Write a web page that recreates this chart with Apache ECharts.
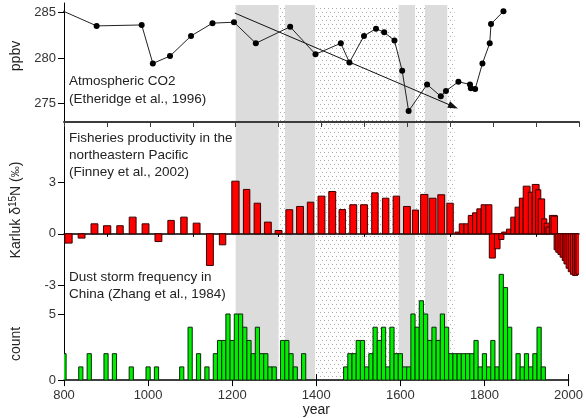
<!DOCTYPE html>
<html>
<head>
<meta charset="utf-8">
<script src="https://cdn.jsdelivr.net/npm/echarts@6.0.0/dist/echarts.min.js"></script>
<style>
  html, body {margin:0;padding:0;background:#ffffff;}
  #chart {width:586px;height:418px;}
</style>
</head>
<body>
<div id="chart"></div>
<script>
    // atmospheric CO2 (Etheridge et al., 1996)
    var co2Year = [760, 876, 981, 1007, 1047, 1096, 1146, 1196, 1247, 1327, 1386, 1445, 1465, 1499, 1527, 1546, 1570, 1588, 1603, 1646, 1678, 1690, 1719, 1746, 1748, 1758, 1775, 1792, 1795, 1824];
    var co2Ppbv = [285.9, 283.5, 283.6, 279.4, 280.2, 282.4, 283.8, 283.9, 281.6, 283.4, 280.4, 281.6, 279.5, 282.4, 283.2, 282.8, 281.9, 278.6, 274.2, 277.1, 275.8, 276.4, 277.4, 277.1, 276.7, 276.6, 279.4, 281.6, 283.7, 285.1];
    var co2Trend = [[1198, 284.9], [1707, 274.7]];

    // Karluk d15N (Finney et al., 2002): sample interval start / end year and value
    var fishStart = [802, 833, 863, 892, 923, 952, 982, 1012, 1042, 1072, 1101, 1132, 1162, 1191, 1218, 1243, 1267, 1292, 1317, 1342, 1367, 1392, 1417, 1441, 1466, 1491, 1517, 1542, 1567, 1591, 1612, 1631, 1651, 1671, 1692,
        1711, 1721, 1732, 1742, 1752, 1762, 1772, 1783, 1791, 1803, 1813, 1820, 1831, 1841, 1851, 1861, 1870, 1882, 1891, 1899, 1905, 1913, 1919, 1923, 1931, 1935,
        1942, 1946, 1951, 1956, 1961, 1965, 1970, 1975, 1980, 1985, 1989, 1993];
    var fishEnd = [819, 849, 879, 909, 938, 968, 998, 1028, 1057, 1087, 1117, 1148, 1177, 1208, 1233, 1258, 1283, 1308, 1333, 1358, 1382, 1408, 1433, 1456, 1482, 1507, 1532, 1557, 1582, 1607, 1626, 1648, 1667, 1687, 1707,
        1721, 1732, 1742, 1752, 1762, 1772, 1783, 1797, 1805, 1816, 1825, 1831, 1841, 1851, 1861, 1870, 1886, 1891, 1907, 1911, 1920, 1925, 1931, 1932, 1949, 1950,
        1950, 1954, 1959, 1964, 1969, 1973, 1978, 1983, 1988, 1993, 1997, 2001];
    var fishValue = [-0.54, -0.25, 0.58, 0.47, 0.47, 0.97, 0.58, -0.45, 0.78, 0.97, 0.62, -1.84, -0.64, 3.06, 2.58, 1.78, 0.68, 0.19, 1.40, 1.59, 1.84, 2.19, 2.46, 1.41, 1.69, 1.69, 2.38, 2.07, 2.19, 1.59, 1.38, 2.29, 2.07, 2.27, 1.78,
        0.1, 0.58, 0.58, 1.07, 1.22, 1.45, 1.69, 1.69, -1.41, -0.87, -0.33, 0.1, 0.27, 0.97, 1.55, 2.07, 2.77, 2.42, 2.87, 2.56, 2.03, 0.87, 0.62, 0.39, 1.07, 1.03,
        -0.93, -1.07, -1.2, -1.36, -1.55, -1.75, -2.0, -2.2, -2.35, -2.42, -2.42, -2.35];

    // dust storm frequency in China (Zhang et al., 1984), per decade
    var dustYear = [800, 840, 860, 900, 920, 960, 1000, 1020, 1080, 1100, 1120, 1140, 1160, 1170, 1180, 1190, 1200, 1210, 1220, 1230, 1240, 1250, 1260, 1270, 1280, 1290, 1300,
        1320, 1330, 1340, 1350, 1370, 1470, 1480, 1490, 1500, 1510, 1520, 1530, 1540, 1550, 1560, 1570, 1580, 1590, 1600, 1610, 1620, 1630, 1640, 1650, 1660, 1670, 1680, 1690,
        1700, 1710, 1720, 1730, 1740, 1750, 1760, 1770, 1780, 1790, 1800, 1810, 1820, 1830, 1840, 1850, 1860, 1880, 1890, 1900, 1910, 1920, 1930, 1940];
    var dustCount = [2, 1, 2, 2, 2, 1, 1, 1, 1, 4, 2, 1, 2, 3, 3, 5, 3, 5, 5, 4, 3, 2, 4, 2, 2, 1, 1,
        3, 3, 2, 1, 2, 1, 2, 2, 3, 3, 1, 2, 4, 3, 4, 1, 4, 2, 2, 1, 1, 5, 4, 6, 5, 3, 4, 3,
        5, 4, 2, 2, 2, 2, 2, 2, 3, 1, 2, 1, 3, 1, 8, 7, 4, 2, 1, 2, 1, 2, 4, 1];

    // shaded periods
    var greyBands = [[1200, 1300], [1315, 1385], [1580, 1618], [1641, 1693]];
    var dottedBands = [[1300, 1710]];

    var FONT = 'Liberation Sans, Arial, sans-serif';

    // dotted fill pattern
    var pat = document.createElement('canvas');
    pat.width = 4; pat.height = 8;
    var pctx = pat.getContext('2d');
    pctx.fillStyle = '#aaaaaa';
    pctx.fillRect(0, 0, 1, 1);
    pctx.fillRect(2, 4, 1, 1);

    var fishData = fishStart.map(function (s, i) { return [s, fishEnd[i], fishValue[i]]; });
    var dustData = dustYear.map(function (y, i) { return [y - 5, y + 5, dustCount[i]]; });
    var bandData = dottedBands.map(function (b) { return [b[0], b[1], 0]; })
        .concat(greyBands.map(function (b) { return [b[0], b[1], 1]; }));

    function barItem(fill, stroke) {
        return function (params, api) {
            var p0 = api.coord([api.value(0), api.value(2)]);
            var p1 = api.coord([api.value(1), 0]);
            return {
                type: 'rect',
                shape: {x: p0[0], y: Math.min(p0[1], p1[1]), width: p1[0] - p0[0], height: Math.abs(p1[1] - p0[1])},
                style: {fill: fill, stroke: stroke, lineWidth: 1}
            };
        };
    }

    var chart = echarts.init(document.getElementById('chart'), null, {renderer: 'canvas'});

    var xBase = {type: 'value', min: 800, max: 2000, interval: 200, splitLine: {show: false}};
    var plain = function (v) { return String(v); };

    var option = {
        animation: false,
        backgroundColor: '#ffffff',
        grid: [
            {left: 64, width: 515, top: 5, height: 376},      // shading
            {left: 64, width: 515, top: 3, height: 119},      // CO2
            {left: 64, width: 515, top: 122, height: 170.3},  // d15N
            {left: 64, width: 515, top: 266.4, height: 114.6} // count
        ],
        xAxis: [
            Object.assign({}, xBase, {gridIndex: 0, show: false}),
            Object.assign({}, xBase, {gridIndex: 1, show: false}),
            Object.assign({}, xBase, {gridIndex: 2, position: 'top', interval: 100,
                axisLine: {onZero: false, lineStyle: {color: '#3c3c3c', width: 2}},
                axisTick: {inside: true, length: 5, lineStyle: {color: '#3c3c3c'}},
                axisLabel: {show: false}}),
            Object.assign({}, xBase, {gridIndex: 2, position: 'bottom',
                axisLine: {onZero: true, lineStyle: {color: '#000', width: 1.5}},
                axisTick: {length: 3, customValues: [900, 1100, 1300, 1500, 1700, 1900], lineStyle: {color: '#000'}},
                axisLabel: {show: false}}),
            Object.assign({}, xBase, {gridIndex: 3, position: 'bottom',
                name: 'year', nameLocation: 'middle', nameGap: 22,
                nameTextStyle: {fontFamily: FONT, fontSize: 14, color: '#222'},
                axisLine: {onZero: false, lineStyle: {color: '#000', width: 1.5}},
                axisTick: {length: 6, lineStyle: {color: '#000'}},
                axisLabel: {fontFamily: FONT, fontSize: 13, color: '#333', margin: 9, formatter: plain}}),
            Object.assign({}, xBase, {gridIndex: 3, position: 'bottom',
                axisLine: {onZero: false, show: false},
                axisTick: {inside: true, length: 6, lineStyle: {color: '#000'}},
                axisLabel: {show: false}})
        ],
        yAxis: [
            {type: 'value', gridIndex: 0, min: 0, max: 1, show: false},
            {type: 'value', gridIndex: 1, min: 273, max: 286, splitLine: {show: false},
                axisLine: {show: true, lineStyle: {color: '#000'}},
                axisTick: {length: 6, customValues: [275, 280, 285], lineStyle: {color: '#000'}},
                axisLabel: {customValues: [275, 280, 285], fontFamily: FONT, fontSize: 13, color: '#333', margin: 8}},
            {type: 'value', gridIndex: 2, min: -3.4, max: 6.5, splitLine: {show: false},
                axisLine: {show: true, onZero: false, lineStyle: {color: '#000'}},
                axisTick: {length: 6, customValues: [-3, 0, 3], lineStyle: {color: '#000'}},
                axisLabel: {customValues: [-3, 0, 3], fontFamily: FONT, fontSize: 13, color: '#333', margin: 8}},
            {type: 'value', gridIndex: 3, min: 0, max: 8.6, splitLine: {show: false},
                axisLine: {show: true, onZero: false, lineStyle: {color: '#000'}},
                axisTick: {length: 6, customValues: [0, 5], lineStyle: {color: '#000'}},
                axisLabel: {customValues: [0, 5], fontFamily: FONT, fontSize: 13, color: '#333', margin: 8}}
        ],
        graphic: [
            {type: 'text', x: 16, y: 56, rotation: Math.PI / 2, z: 100,
                style: {text: 'ppbv', font: '14px ' + FONT, fill: '#222', textAlign: 'center', textVerticalAlign: 'middle'}},
            {type: 'text', x: 16, y: 210, rotation: Math.PI / 2, z: 100,
                style: {text: '{a|Karluk δ}{b|15}{a|N (}{c|‰}{a|)}', textAlign: 'center', textVerticalAlign: 'middle',
                    rich: {a: {font: '14px ' + FONT, fill: '#222'}, b: {font: '10px ' + FONT, fill: '#222', padding: [0, 0, 6, 0]}, c: {font: '11px ' + FONT, fill: '#222'}}}},
            {type: 'text', x: 16, y: 344, rotation: Math.PI / 2, z: 100,
                style: {text: 'count', font: '14px ' + FONT, fill: '#222', textAlign: 'center', textVerticalAlign: 'middle'}},
            {type: 'text', x: 69, y: 81, z: 100,
                style: {text: 'Atmospheric CO2', font: '13.5px ' + FONT, fill: '#222', textVerticalAlign: 'middle'}},
            {type: 'text', x: 69, y: 99, z: 100,
                style: {text: '(Etheridge et al., 1996)', font: '13.5px ' + FONT, fill: '#222', textVerticalAlign: 'middle'}},
            {type: 'text', x: 69, y: 138, z: 100,
                style: {text: 'Fisheries productivity in the', font: '13.5px ' + FONT, fill: '#222', textVerticalAlign: 'middle'}},
            {type: 'text', x: 69, y: 155, z: 100,
                style: {text: 'northeastern Pacific', font: '13.5px ' + FONT, fill: '#222', textVerticalAlign: 'middle'}},
            {type: 'text', x: 69, y: 172, z: 100,
                style: {text: '(Finney et al., 2002)', font: '13.5px ' + FONT, fill: '#222', textVerticalAlign: 'middle'}},
            {type: 'text', x: 69, y: 277, z: 100,
                style: {text: 'Dust storm frequency in', font: '13.5px ' + FONT, fill: '#222', textVerticalAlign: 'middle'}},
            {type: 'text', x: 69, y: 294, z: 100,
                style: {text: 'China (Zhang et al., 1984)', font: '13.5px ' + FONT, fill: '#222', textVerticalAlign: 'middle'}}
        ],
        series: [
            {
                type: 'custom', xAxisIndex: 0, yAxisIndex: 0, z: 0, silent: true,
                data: bandData,
                renderItem: function (params, api) {
                    var p0 = api.coord([api.value(0), 1]);
                    var p1 = api.coord([api.value(1), 0]);
                    var fill = api.value(2) === 1 ? '#dcdcdc' : {image: pat, repeat: 'repeat'};
                    return {type: 'rect', shape: {x: p0[0], y: p0[1], width: p1[0] - p0[0], height: p1[1] - p0[1]}, style: {fill: fill}};
                }
            },
            {
                type: 'line', xAxisIndex: 1, yAxisIndex: 1, z: 5,
                data: co2Year.map(function (y, i) { return [y, co2Ppbv[i]]; }),
                symbol: 'circle', symbolSize: 6, showSymbol: true,
                lineStyle: {color: '#222', width: 1},
                itemStyle: {color: '#000'},
                clip: true,
                markLine: {
                    silent: true, symbol: ['none', 'triangle'], symbolSize: [7, 10],
                    label: {show: false},
                    lineStyle: {color: '#111', width: 1, type: 'solid'},
                    data: [[{coord: co2Trend[0]}, {coord: co2Trend[1]}]]
                }
            },
            {
                type: 'custom', xAxisIndex: 2, yAxisIndex: 2, z: 4, clip: true,
                data: fishData,
                renderItem: barItem('#ff0000', '#3a0000')
            },
            {
                type: 'custom', xAxisIndex: 4, yAxisIndex: 3, z: 4, clip: true,
                data: dustData,
                renderItem: barItem('#00ee00', '#0a2a0a')
            }
        ]
    };
    chart.setOption(option);
</script>
</body>
</html>
